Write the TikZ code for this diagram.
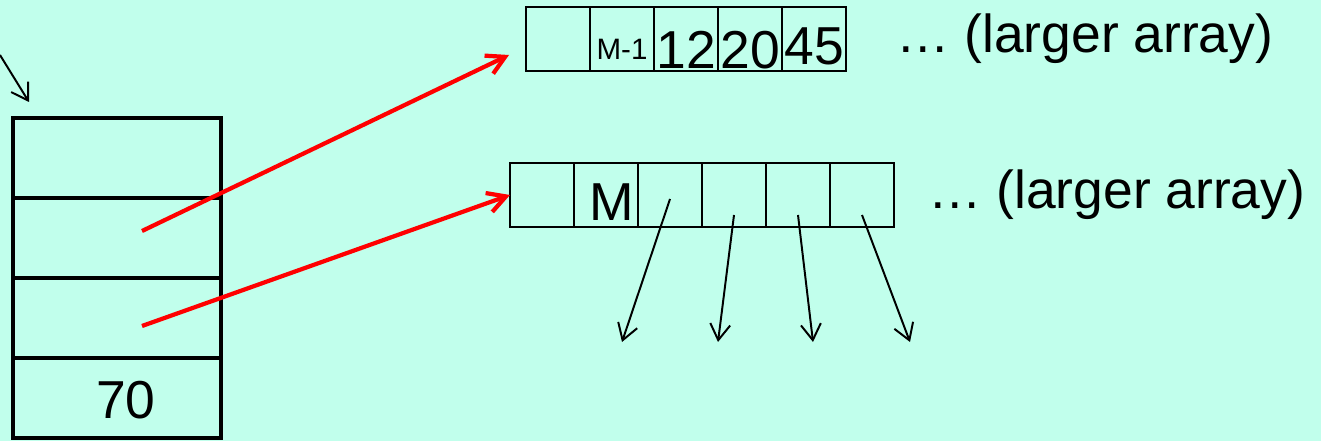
\documentclass[tikz,border=0pt]{standalone}
\usepackage{fontspec}
\setmainfont{Liberation Sans}
\definecolor{slotbg}{RGB}{193,255,236}
\usetikzlibrary{arrows.meta}
\usetikzlibrary{positioning}
\tikzset{
  slot/.style={draw, line width=2.8pt, minimum width=5.2cm, minimum height=2cm, inner sep=0pt, outer sep=0pt},
  cell/.style={draw, line width=1.4pt, minimum width=1.6cm, minimum height=1.6cm, inner sep=0pt, outer sep=0pt},
  ptr/.style={red, line width=3pt, -{Straight Barb[length=0.45cm, width=0.5cm]}},
  ref/.style={black, line width=1.4pt, -{Straight Barb[length=0.4cm, width=0.5cm]}},
  big/.style={font=\fontsize{38}{45}\selectfont, inner sep=0pt},
  small/.style={font=\fontsize{21}{25}\selectfont, inner sep=0pt},
}

\begin{document}
\begin{tikzpicture}
  \fill [slotbg] (0,0) rectangle (33.025,11.025);
  \useasboundingbox (0,0) rectangle (33.025,11.025);

  % the stack of slots
  \node [slot] (s1) at (2.925,7.075) {};
  \node [slot, below=0pt of s1] (s2) {};
  \node [slot, below=0pt of s2] (s3) {};
  \node [slot, below=0pt of s3] (s4) {};
  \node [big, anchor=base] (seventy) at ([xshift=0.225cm, yshift=0.5cm]s4.south) {70};

  \coordinate (entry) at (0,9.65);
  \draw [ref] (entry) -- ([shift={(0.4,0.4)}]s1.north west);

  % first array
  \node [cell] (a1) at (13.95,10.05) {};
  \node [cell, right=0pt of a1] (a2) {};
  \node [cell, right=0pt of a2] (a3) {};
  \node [cell, right=0pt of a3] (a4) {};
  \node [cell, right=0pt of a4] (a5) {};
  \node [small, anchor=base] (a2lab) at ([yshift=0.275cm]a2.south) {M-1};
  \node [big, anchor=base] (a3lab) at ([yshift=0.05cm]a3.south) {12};
  \node [big, anchor=base] (a4lab) at ([yshift=0.05cm]a4.south) {20};
  \node [big, anchor=base] (a5lab) at ([yshift=0.15cm]a5.south) {45};
  \node [big, anchor=base west] (more1) at (22.4,9.7) {… (larger array)};

  % second array
  \node [cell] (b1) at (13.55,6.15) {};
  \node [cell, right=0pt of b1] (b2) {};
  \node [cell, right=0pt of b2] (b3) {};
  \node [cell, right=0pt of b3] (b4) {};
  \node [cell, right=0pt of b4] (b5) {};
  \node [cell, right=0pt of b5] (b6) {};
  \node [big, anchor=base] (b2lab) at ([xshift=0.15cm, yshift=0.15cm]b2.south) {M};
  \node [big, anchor=base west] (more2) at (23.2,5.8) {… (larger array)};

  % pointers out of the slots
  \draw [ptr] ([shift={(0.625,0.175)}]s2.center) -- ([shift={(-0.425,-0.4)}]a1.west);
  \draw [ptr] ([shift={(0.625,-0.2)}]s3.center) -- (b1.west);

  % pointers out of the second array
  \coordinate (q1) at (15.55,2.475);
  \coordinate (q2) at (17.95,2.475);
  \coordinate (q3) at (20.325,2.475);
  \coordinate (q4) at (22.75,2.475);
  \draw [ref] ([yshift=-0.1cm]b3.center) -- (q1);
  \draw [ref] ([yshift=-0.5cm]b4.center) -- (q2);
  \draw [ref] ([yshift=-0.5cm]b5.center) -- (q3);
  \draw [ref] ([yshift=-0.5cm]b6.center) -- (q4);
\end{tikzpicture}
\end{document}
